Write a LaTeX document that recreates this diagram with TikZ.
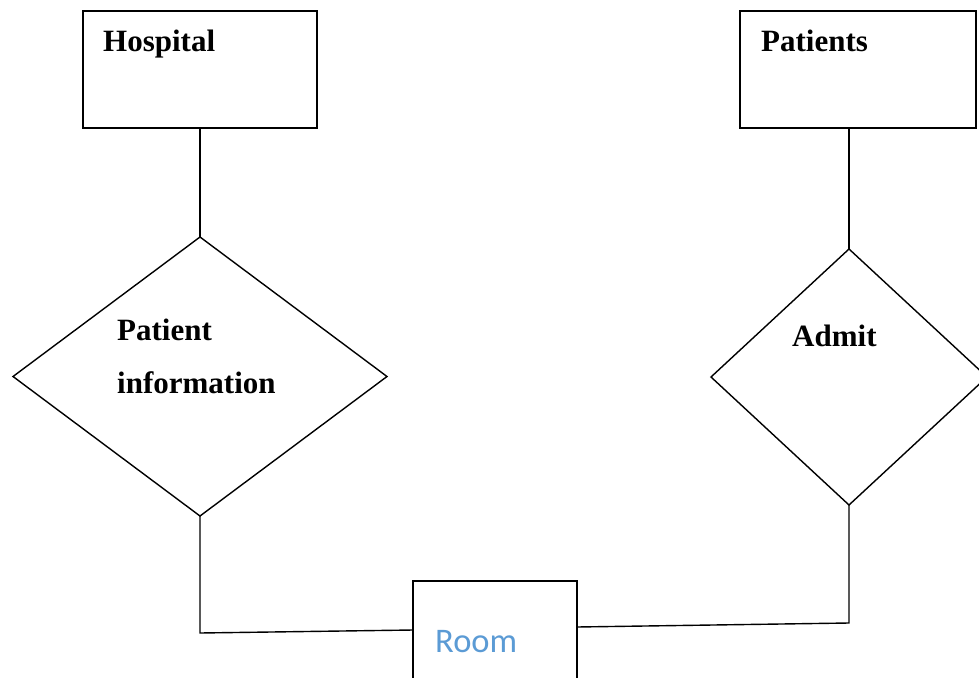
\documentclass[tikz,border=0pt]{standalone}
\usepackage{fontspec}
\setmainfont{Liberation Serif}
\newfontfamily\roomfont{Carlito}
\usetikzlibrary{shapes.geometric}
\definecolor{roomblue}{RGB}{91,155,213}
\tikzset{
  ent/.style={draw=black, line width=1.4pt, rectangle, inner sep=0pt, outer sep=0pt},
  rel/.style={draw=black, line width=1.4pt, diamond, inner sep=0pt, outer sep=0pt},
  lbl/.style={anchor=base west, inner sep=0pt, font=\bfseries\fontsize{31}{37}\selectfont},
  roomlbl/.style={anchor=base west, inner sep=0pt, text=roomblue, font=\roomfont\fontsize{34.5}{40}\selectfont},
  conn/.style={draw=black, line width=1.4pt}
}
\begin{document}
\begin{tikzpicture}[x=1pt,y=-1pt]
\useasboundingbox (0,0) rectangle (979,677);
\clip (0,0) rectangle (979,677);
\fill[white] (0,0) rectangle (979,677);
% entities
\node[ent, minimum width=234pt, minimum height=117pt] (hosp) at (200,69.5) {};
\node[ent, minimum width=236pt, minimum height=117pt] (pat) at (858,69.5) {};
\node[ent, minimum width=164pt, minimum height=118pt] (room) at (495,640) {};
% relationships
\node[rel, minimum width=374pt, minimum height=279pt] (pinfo) at (200,376.5) {};
\node[rel, minimum width=276pt, minimum height=256pt] (admit) at (849,377) {};
% labels
\node[lbl] (thosp) at (103,52) {Hospital};
\node[lbl] (tpat) at (761,52) {Patients};
\node[lbl] (tpi1) at (117,340) {Patient};
\node[lbl] (tpi2) at (117,393) {information};
\node[lbl] (tadm) at (792,346) {Admit};
\node[roomlbl] (troom) at (435,652) {Room};
% connectors
\coordinate (bl) at (200,633);
\coordinate (br) at (849,623);
\draw[conn] (hosp.south) -- (pinfo.north);
\draw[conn] (pat.south -| admit.north) -- (admit.north);
\draw[conn] (pinfo.south) -- (bl) -- ([yshift=10pt]room.west);
\draw[conn] (admit.south) -- (br) -- ([yshift=13pt]room.east);
\end{tikzpicture}
\end{document}
